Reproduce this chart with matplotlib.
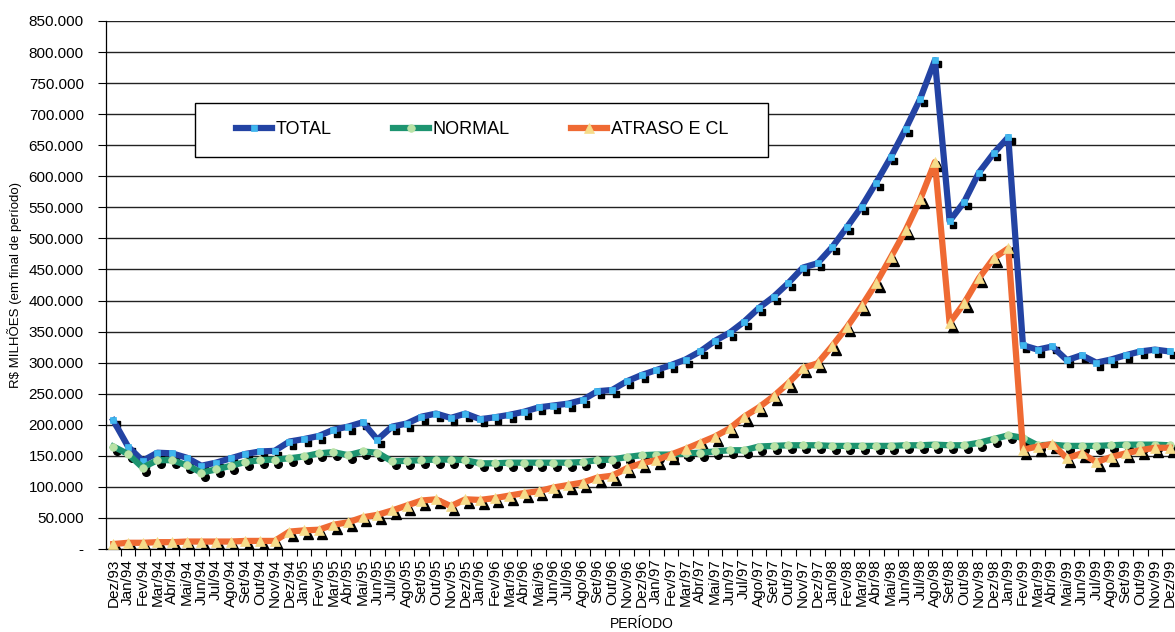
import numpy as np
import matplotlib
matplotlib.use("Agg")
import matplotlib.pyplot as plt
import matplotlib.transforms as mtransforms
from matplotlib.patches import Rectangle
from matplotlib.ticker import FuncFormatter, MultipleLocator

plt.rcParams['font.family'] = ['Liberation Sans', 'DejaVu Sans']

# periodos (fim de mes)
meses = ['Jan', 'Fev', 'Mar', 'Abr', 'Mai', 'Jun', 'Jul', 'Ago', 'Set', 'Out', 'Nov', 'Dez']
periodos = ['Dez/93'] + [f'{m}/{a}' for a in ['94', '95', '96', '97', '98', '99'] for m in meses]

# valores em R$ mil milhoes
total = [207, 165, 142, 155, 154, 147, 134, 139, 146, 153, 157, 158,
         173, 177, 182, 192, 197, 204, 176, 197, 202, 213, 218, 211,
         218, 209, 212, 216, 221, 228, 231, 234, 240, 254, 256, 270,
         280, 288, 296, 305, 318, 335, 348, 366, 388, 406, 428, 453,
         460, 486, 518, 551, 590, 631, 676, 725, 787, 528, 559, 606,
         637, 663, 328, 321, 326, 304, 312, 300, 305, 312, 318, 321, 318]
normal = [165, 153, 131, 143, 143, 135, 123, 128, 134, 140, 143, 144,
          146, 149, 154, 156, 151, 157, 155, 141, 142, 143, 144, 144,
          143, 138, 138, 139, 139, 139, 139, 139, 140, 143, 144, 148,
          151, 152, 152, 154, 155, 157, 159, 159, 165, 166, 167, 167,
          167, 166, 166, 166, 166, 166, 167, 167, 168, 167, 167, 171,
          177, 183, 179, 167, 168, 166, 166, 166, 167, 168, 168, 168, 167]
atraso = [8, 10, 10, 11, 11, 12, 12, 12, 12, 13, 13, 13,
          28, 30, 31, 39, 43, 51, 55, 62, 70, 78, 80, 69,
          80, 79, 82, 86, 90, 93, 99, 103, 107, 115, 118, 130,
          138, 143, 152, 161, 171, 181, 194, 213, 228, 246, 267, 291,
          299, 327, 357, 391, 428, 470, 513, 563, 623, 364, 396, 436,
          468, 484, 160, 165, 169, 146, 154, 140, 148, 154, 159, 163, 163]

series = [
    ('TOTAL', total, '#2343a3', '#3fb6ee', 's', 5),
    ('NORMAL', normal, '#1d9470', '#b9e2a6', 'o', 5.5),
    ('ATRASO E CL', atraso, '#ef6a33', '#f6dc8a', '^', 6.5),
]

fig = plt.figure(figsize=(11.75, 6.32), dpi=100)
ax = fig.add_axes([106 / 1175, 83 / 632, 1071 / 1175, 528 / 632])

x = np.arange(len(periodos))
sombra = mtransforms.offset_copy(ax.transData, fig=fig, x=3.5, y=-4, units='dots')

for nome, vals, cor, cor_m, mk, ms in series:
    y = np.array(vals) * 1000
    ax.plot(x, y, ls='none', marker=mk, ms=ms, color='black', transform=sombra, zorder=3)
    ax.plot(x, y, color=cor, lw=4.5, marker=mk, ms=ms, mfc=cor_m, mec=cor_m,
            mew=0.5, label=nome, zorder=4)

ax.set_ylim(0, 850000)
ax.set_xlim(-0.5, len(periodos) - 0.5)
ax.yaxis.set_major_locator(MultipleLocator(50000))
ax.yaxis.set_major_formatter(FuncFormatter(
    lambda v, p: '-' if v == 0 else f'{v:,.0f}'.replace(',', '.')))
ax.grid(axis='y', color='#222222', lw=1.0)
ax.set_axisbelow(True)

ax.set_xticks(x)
ax.set_xticklabels(periodos, rotation=90, fontsize=11, va='top')
ax.set_xticks(x + 0.5, minor=True)
ax.tick_params(axis='x', which='major', length=0, pad=7)
ax.tick_params(axis='x', which='minor', length=5, direction='out', width=0.8)
ax.tick_params(axis='y', length=6, width=0.8, labelsize=11, pad=10)

for s in ['top', 'right']:
    ax.spines[s].set_visible(False)
ax.spines['left'].set_linewidth(0.9)
ax.spines['bottom'].set_linewidth(0.9)

ax.set_ylabel('R$ MILHÕES (em final de período)', fontsize=9.5, labelpad=5)
ax.set_xlabel('PERÍODO', fontsize=10, labelpad=7)

# caixa da legenda
fig.patches.append(Rectangle((195 / 1175, 1 - 157 / 632), 573 / 1175, 54 / 632,
                             transform=fig.transFigure, facecolor='white',
                             edgecolor='black', lw=1.0, zorder=5))
leg = fig.legend(loc='center', bbox_to_anchor=(482 / 1175, 1 - 130 / 632), ncol=3,
                 frameon=False, fontsize=13, handlelength=2.0, handletextpad=0.2,
                 columnspacing=3.4, numpoints=1)
leg.set_zorder(6)

fig.savefig('out.png', dpi=100)
